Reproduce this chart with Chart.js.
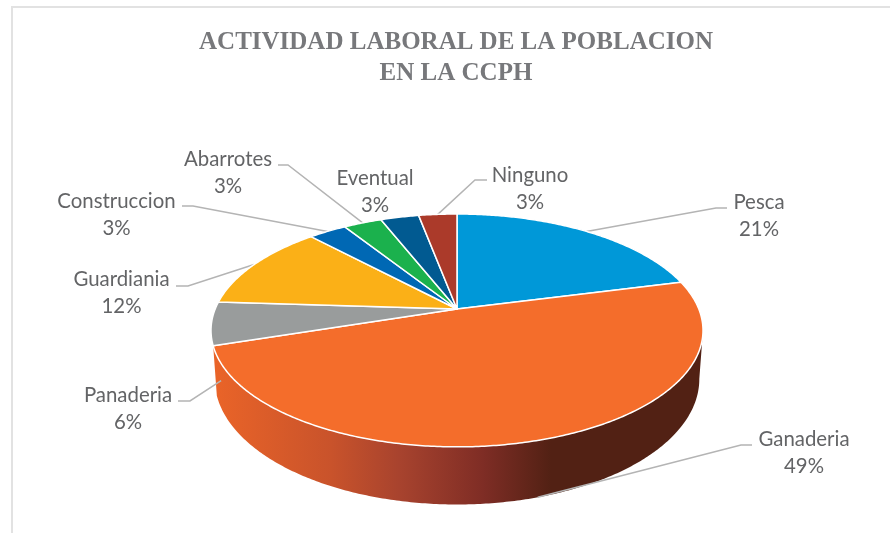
<!DOCTYPE html>
<html lang="es">
<head>
<meta charset="utf-8">
<title>Actividad laboral</title>
<script src="https://cdn.jsdelivr.net/npm/chart.js@4"></script>
<style>
    html, body { margin: 0; padding: 0; background: #fff; overflow: hidden; }
    #marco { position: absolute; left: 11px; top: 6px; width: 900px; height: 560px; border: 2px solid #e2e2e2; box-sizing: border-box; }
    canvas { position: absolute; left: 0; top: 0; }
</style>
</head>
<body>
<div id="marco"></div>
<canvas id="pieChart" width="890" height="533"></canvas>
<script>
const categorias = ["Pesca", "Ganaderia", "Panaderia", "Guardiania", "Construccion", "Abarrotes", "Eventual", "Ninguno"];
const valores = [21, 49, 6, 12, 3, 3, 3, 3];
const colores = ["#0098d8", "#f46d2b", "#999c9c", "#fbb017", "#0068b4", "#1bb14d", "#015a91", "#ab3a2a"];
const titulo = ["ACTIVIDAD LABORAL DE LA POBLACION", "EN LA CCPH"];

// Sitio de cada etiqueta: centro x, línea base y, y el codo de la línea guía
const etiquetas = [
    { x: 759, y: 209, codo: [[727, 208], [716, 208]] },
    { x: 804, y: 446, codo: [[752, 445], [741, 445]] },
    { x: 128, y: 402, codo: [[178, 401], [190, 401]], ajuste: [6, 9] },
    { x: 121.5, y: 286, codo: [[176, 286], [188, 286]] },
    { x: 116.5, y: 208, codo: [[182, 206], [193, 206]] },
    { x: 228, y: 166, codo: [[278, 165], [288, 165]] },
    { x: 375, y: 185, codo: null },
    { x: 530, y: 182, codo: [[487, 180], [475, 180]] },
];

// Proyección en perspectiva del disco
const CX = 457, CY = 309, B = 241.8, A = 112.5, K = 0.184, FONDO = 47, ENCOGE = 0.985;

function proyectar(angulo, abajo) {
    const u = Math.cos(angulo);
    const v = Math.sin(angulo);
    const w = 1 / (1 - K * v);
    if (abajo) return [CX + B * ENCOGE * u * w, CY + A * v * w + FONDO * w];
    return [CX + B * u * w, CY + A * v * w];
}

function borde(ctx, desde, hasta, abajo) {
    const pasos = Math.max(2, Math.ceil(Math.abs(hasta - desde) / 0.01));
    for (let i = 0; i <= pasos; i++) {
        const p = proyectar(desde + (hasta - desde) * i / pasos, abajo);
        ctx.lineTo(p[0], p[1]);
    }
}

const pie3d = {
    id: "pie3d",
    beforeDatasetDraw(chart) {
        const ctx = chart.ctx;
        const arcos = chart.getDatasetMeta(0).data;
        // ángulos donde la pared empieza y deja de verse
        const visIni = Math.asin(K);
        const visFin = Math.PI - Math.asin(K);

        ctx.save();

        // Pared lateral
        const grad = ctx.createLinearGradient(213, 0, 703, 0);
        [[0, "#ea6428"], [0.24, "#c9532b"], [0.38, "#a8432e"], [0.55, "#7f2d25"], [0.69, "#522114"], [1, "#522114"]]
            .forEach((s) => grad.addColorStop(s[0], s[1]));
        arcos.forEach((arco) => {
            const medio = (arco.startAngle + arco.endAngle) / 2;
            if (medio < visIni || medio > visFin) return;
            const ini = Math.max(arco.startAngle, visIni);
            const fin = Math.min(arco.endAngle, visFin);
            ctx.beginPath();
            borde(ctx, ini, fin, false);
            borde(ctx, fin, ini, true);
            ctx.closePath();
            ctx.fillStyle = grad;
            ctx.fill();
        });

        // Líneas guía
        ctx.strokeStyle = "#b4b4b4";
        ctx.lineWidth = 1.5;
        arcos.forEach((arco, i) => {
            const et = etiquetas[i];
            if (!et.codo) return;
            const medio = (arco.startAngle + arco.endAngle) / 2;
            const p = proyectar(medio, Math.sin(medio) > 0);
            const aj = et.ajuste || [0, 0];
            ctx.beginPath();
            ctx.moveTo(et.codo[0][0], et.codo[0][1]);
            ctx.lineTo(et.codo[1][0], et.codo[1][1]);
            ctx.lineTo(p[0] + aj[0], p[1] + aj[1]);
            ctx.stroke();
        });

        // Cara superior
        ctx.strokeStyle = "#ffffff";
        ctx.lineWidth = 1.5;
        ctx.lineJoin = "round";
        arcos.forEach((arco, i) => {
            ctx.beginPath();
            ctx.moveTo(CX, CY);
            borde(ctx, arco.startAngle, arco.endAngle, false);
            ctx.closePath();
            ctx.fillStyle = colores[i];
            ctx.fill();
            ctx.stroke();
        });

        // Etiquetas
        const total = valores.reduce((acc, item) => acc + item, 0);
        ctx.fillStyle = "#636466";
        ctx.font = "20.4px Lato";
        ctx.textAlign = "center";
        ctx.textBaseline = "alphabetic";
        categorias.forEach((nombre, i) => {
            ctx.fillText(nombre, etiquetas[i].x, etiquetas[i].y);
            ctx.fillText(Math.round(valores[i] / total * 100) + "%", etiquetas[i].x, etiquetas[i].y + 26.5);
        });

        ctx.restore();
        return false;
    },
};

new Chart(document.getElementById("pieChart").getContext("2d"), {
    type: "pie",
    data: {
        labels: categorias,
        datasets: [{ data: valores, backgroundColor: colores }],
    },
    plugins: [pie3d],
    options: {
        responsive: false,
        animation: false,
        layout: { padding: { left: 22, top: 0 } },
        plugins: {
            legend: { display: false },
            tooltip: { enabled: false },
            title: {
                display: true,
                text: titulo,
                color: "#77787b",
                font: { family: "'Liberation Serif'", size: 25, weight: "bold", lineHeight: 1.24 },
                padding: { top: 27, bottom: 10 },
            },
        },
    },
});
</script>
</body>
</html>
